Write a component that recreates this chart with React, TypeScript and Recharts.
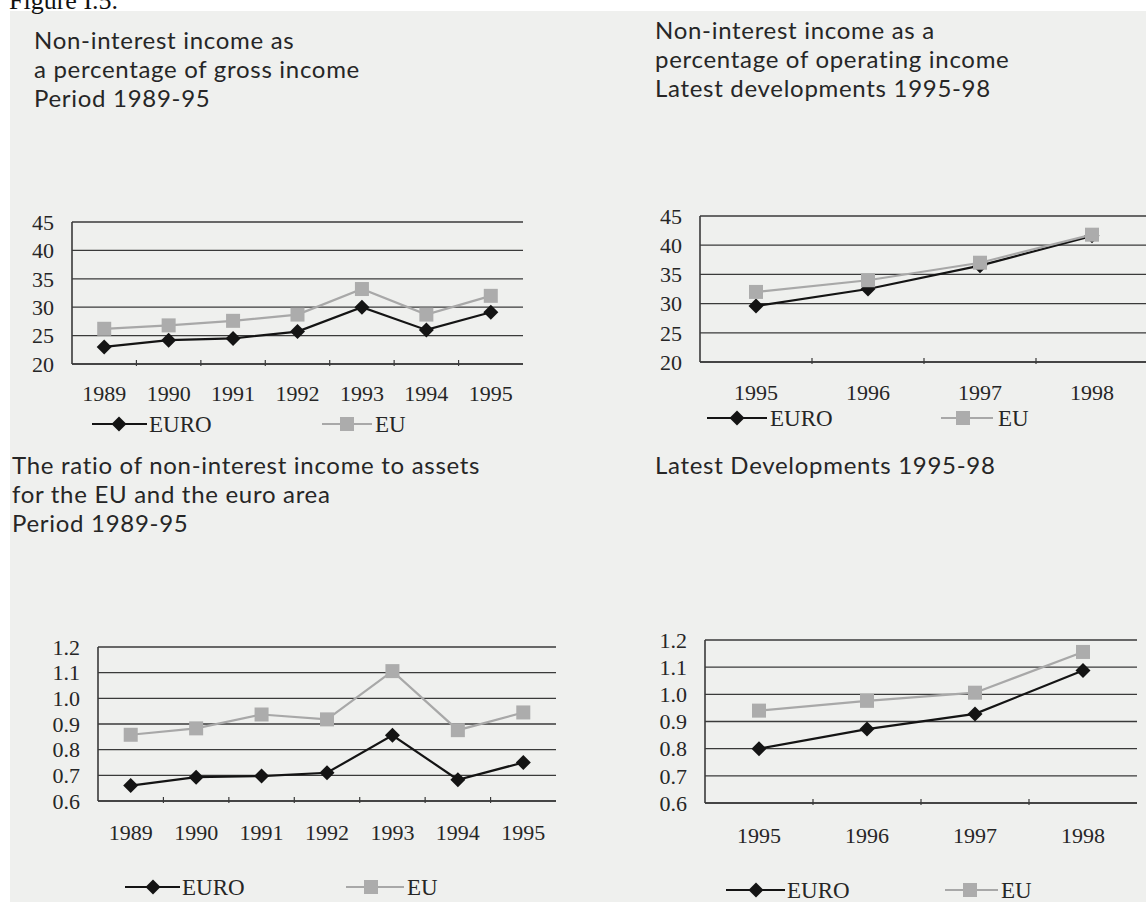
import React from 'react';
import { LineChart, Line, XAxis, YAxis, CartesianGrid, Legend } from 'recharts';

// categories
const yearsEarly = ['1989', '1990', '1991', '1992', '1993', '1994', '1995'];
const yearsLate = ['1995', '1996', '1997', '1998'];

// non-interest income / gross income, %
const grossEuro = [23.0, 24.2, 24.5, 25.7, 30.0, 26.0, 29.1];
const grossEu = [26.2, 26.8, 27.6, 28.7, 33.2, 28.7, 32.0];

// non-interest income / operating income, %
const operEuro = [29.6, 32.5, 36.5, 41.6];
const operEu = [32.0, 34.0, 37.0, 41.8];

// non-interest income / assets
const assetsEuro = [0.66, 0.693, 0.697, 0.71, 0.856, 0.683, 0.75];
const assetsEu = [0.858, 0.883, 0.937, 0.918, 1.106, 0.876, 0.945];
const latestEuro = [0.8, 0.872, 0.928, 1.088];
const latestEu = [0.94, 0.976, 1.006, 1.156];

const pctTicks = [20, 25, 30, 35, 40, 45];
const ratioTicks = [0.6, 0.7, 0.8, 0.9, 1.0, 1.1, 1.2];

const PAGE_BG = '#eff0ee';
const INK = '#262626';
const GRID = '#3a3a3a';
const EURO_COLOR = '#141414';
const EU_LINE = '#a8a8a8';
const EU_FILL = '#acacac';
const SERIF = '"Liberation Serif", "Times New Roman", serif';
const SANS = 'Lato, "Open Sans", sans-serif';

const toRows = (years: string[], euro: number[], eu: number[]) =>
  years.map((year, i) => ({ year, euro: euro[i], eu: eu[i] }));

type Rect = { left: number; top: number; width: number; height: number };
// [lineStart, lineEnd, markerX, textX]
type KeySpec = { y: number; euro: number[]; eu: number[] };

const Diamond = ({ cx, cy, r = 7.5 }: { cx: number; cy: number; r?: number }) => (
  <path d={`M${cx},${cy - r}L${cx + r},${cy}L${cx},${cy + r}L${cx - r},${cy}Z`} fill={EURO_COLOR} />
);

const Square = ({ cx, cy, s = 7 }: { cx: number; cy: number; s?: number }) => (
  <rect x={cx - s} y={cy - s} width={s * 2} height={s * 2} fill={EU_FILL} />
);

const YearTick = (props: any) => {
  const { x, y, payload, index, band, gap } = props;
  const bx = x - band / 2;
  return (
    <g>
      {index > 0 && <line x1={bx} x2={bx} y1={y} y2={y - 6} stroke={GRID} strokeWidth={1.2} />}
      <text x={x} y={y + gap} textAnchor="middle" dominantBaseline="central" fill={INK} fontSize={22} fontFamily={SERIF}>
        {payload.value}
      </text>
    </g>
  );
};

const KeyRow = ({ spec, ox, oy, width, height }: { spec: KeySpec; ox: number; oy: number; width: number; height: number }) => {
  const y = spec.y - oy;
  const [e0, e1, em, et] = spec.euro.map((v) => v - ox);
  const [u0, u1, um, ut] = spec.eu.map((v) => v - ox);
  return (
    <svg width={width} height={height} style={{ position: 'absolute', left: 0, top: 0, overflow: 'visible' }}>
      <line x1={e0} x2={e1} y1={y} y2={y} stroke={EURO_COLOR} strokeWidth={2} />
      <Diamond cx={em} cy={y} />
      <text x={et} y={y} dominantBaseline="central" fill={INK} fontSize={23} fontFamily={SERIF}>EURO</text>
      <line x1={u0} x2={u1} y1={y} y2={y} stroke={EU_LINE} strokeWidth={2} />
      <Square cx={um} cy={y} />
      <text x={ut} y={y} dominantBaseline="central" fill={INK} fontSize={23} fontFamily={SERIF}>EU</text>
    </svg>
  );
};

type PanelProps = {
  rows: { year: string; euro: number; eu: number }[];
  ticks: number[];
  domain: [number, number];
  fmt: (v: number) => string;
  plot: Rect;
  labelGap: number;
  keySpec: KeySpec;
};

const Panel = ({ rows, ticks, domain, fmt, plot, labelGap, keySpec }: PanelProps) => {
  const yw = 70;
  const padTop = 20;
  const padRight = 10;
  const xh = 110;
  const width = yw + plot.width + padRight;
  const height = padTop + plot.height + xh;
  const ox = plot.left - yw;
  const oy = plot.top - padTop;
  const band = plot.width / rows.length;
  const frame = { stroke: GRID, strokeWidth: 1.6 };

  return (
    <div style={{ position: 'absolute', left: ox, top: oy }}>
      <LineChart width={width} height={height} data={rows} margin={{ top: padTop, right: padRight, bottom: 0, left: 0 }}>
        <CartesianGrid yAxisId="left" vertical={false} stroke={GRID} strokeWidth={1.3} />
        <XAxis
          dataKey="year"
          scale="point"
          padding={{ left: band / 2, right: band / 2 }}
          interval={0}
          height={xh}
          tickSize={0}
          tickLine={false}
          axisLine={frame}
          tick={(p: any) => <YearTick {...p} band={band} gap={labelGap} />}
        />
        <YAxis
          yAxisId="left"
          width={yw}
          domain={domain}
          ticks={ticks}
          interval={0}
          tickSize={0}
          tickMargin={18}
          tickLine={false}
          axisLine={frame}
          tickFormatter={fmt}
          tick={{ fill: INK, fontSize: 22, fontFamily: SERIF }}
        />
        <YAxis yAxisId="right" orientation="right" width={0} domain={domain} ticks={ticks} tick={false} tickLine={false} axisLine={frame} />
        <Line
          yAxisId="left"
          dataKey="euro"
          stroke={EURO_COLOR}
          strokeWidth={2.2}
          isAnimationActive={false}
          activeDot={false}
          dot={(p: any) => <Diamond key={`d${p.index}`} cx={p.cx} cy={p.cy} />}
        />
        <Line
          yAxisId="left"
          dataKey="eu"
          stroke={EU_LINE}
          strokeWidth={2.2}
          isAnimationActive={false}
          activeDot={false}
          dot={(p: any) => <Square key={`s${p.index}`} cx={p.cx} cy={p.cy} />}
        />
        <Legend
          verticalAlign="middle"
          align="center"
          wrapperStyle={{ left: 0, top: 0, width, height, pointerEvents: 'none' }}
          content={() => <KeyRow spec={keySpec} ox={ox} oy={oy} width={width} height={height} />}
        />
      </LineChart>
    </div>
  );
};

const Title = ({ lines, left, top }: { lines: string[]; left: number; top: number }) => (
  <div
    style={{
      position: 'absolute',
      left,
      top,
      fontFamily: SANS,
      fontSize: 24,
      letterSpacing: 0.7,
      lineHeight: '29px',
      color: INK,
      whiteSpace: 'nowrap',
    }}
  >
    {lines.map((t) => (
      <div key={t}>{t}</div>
    ))}
  </div>
);

const pct = (v: number) => String(v);
const ratio = (v: number) => v.toFixed(1);

export default function App() {
  return (
    <div style={{ position: 'absolute', left: 0, top: 0, width: 1146, height: 902, overflow: 'hidden', background: '#ffffff' }}>
      <div style={{ position: 'absolute', left: 10, top: 11, right: 0, bottom: 0, background: PAGE_BG }} />
      <svg width={200} height={20} style={{ position: 'absolute', left: 0, top: 0 }}>
        <text x={9} y={9} fontFamily={SERIF} fontSize={26} fill="#111">Figure I.5.</text>
      </svg>

      <Title lines={['Non-interest income as', 'a percentage of gross income', 'Period 1989-95']} left={34} top={25} />
      <Title lines={['Non-interest income as a', 'percentage of operating income', 'Latest developments 1995-98']} left={655} top={15} />
      <Title lines={['The ratio of non-interest income to assets', 'for the EU and the euro area', 'Period 1989-95']} left={12} top={450} />
      <Title lines={['Latest Developments 1995-98']} left={655} top={450} />

      <Panel
        rows={toRows(yearsEarly, grossEuro, grossEu)}
        ticks={pctTicks}
        domain={[20, 45]}
        fmt={pct}
        plot={{ left: 72, top: 222, width: 451, height: 142 }}
        labelGap={27}
        keySpec={{ y: 424, euro: [92, 147, 119, 149], eu: [322, 372, 347, 375] }}
      />
      <Panel
        rows={toRows(yearsLate, operEuro, operEu)}
        ticks={pctTicks}
        domain={[20, 45]}
        fmt={pct}
        plot={{ left: 700, top: 216, width: 448, height: 146 }}
        labelGap={28}
        keySpec={{ y: 418, euro: [707, 767, 737, 770], eu: [941, 993, 963, 998] }}
      />
      <Panel
        rows={toRows(yearsEarly, assetsEuro, assetsEu)}
        ticks={ratioTicks}
        domain={[0.6, 1.2]}
        fmt={ratio}
        plot={{ left: 98, top: 647, width: 458, height: 154 }}
        labelGap={29}
        keySpec={{ y: 887, euro: [125, 180, 153, 182], eu: [346, 404, 371, 407] }}
      />
      <Panel
        rows={toRows(yearsLate, latestEuro, latestEu)}
        ticks={ratioTicks}
        domain={[0.6, 1.2]}
        fmt={ratio}
        plot={{ left: 705, top: 640, width: 432, height: 163 }}
        labelGap={30}
        keySpec={{ y: 890, euro: [726, 785, 756, 787], eu: [945, 998, 970, 1001] }}
      />
    </div>
  );
}
